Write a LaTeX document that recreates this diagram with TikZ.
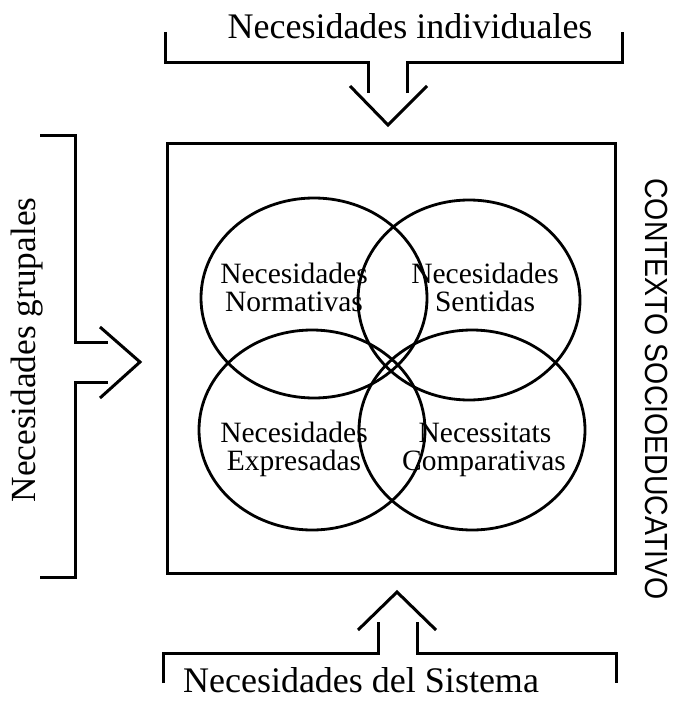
\documentclass[tikz,border=0pt]{standalone}
\usepackage{fontspec}
\usepackage{graphicx}
\setmainfont{Liberation Serif}
\newfontfamily\arialf{Liberation Sans}
\begin{document}
\begin{tikzpicture}[x=1pt,y=-1pt,
  brk/.style={line width=3pt, line join=miter, line cap=butt},
  venn/.style={line width=2.8pt},
  bigtxt/.style={font=\fontsize{36}{36}\selectfont, inner sep=0pt, anchor=base},
  sidetxt/.style={font=\fontsize{35.3}{35.3}\selectfont, inner sep=0pt, anchor=base, rotate=90},
  circtxt/.style={font=\fontsize{29.5}{29.5}\selectfont, inner sep=0pt, anchor=base},
  ctxtxt/.style={font=\arialf\fontsize{32}{32}\selectfont, inner sep=0pt, rotate=-90}
]
\useasboundingbox (0,0) rectangle (672,701);
% main box
\draw[brk] (167,143) rectangle (615,573);
% Venn ellipses
\draw[venn] (314,298) ellipse [x radius=113, y radius=100];
\draw[venn] (469,300) ellipse [x radius=111, y radius=100];
\draw[venn] (312,430) ellipse [x radius=113, y radius=100];
\draw[venn] (472,430) ellipse [x radius=113, y radius=100];
% circle labels
\node[circtxt] (nor1) at (294,283) {Necesidades};
\node[circtxt] (nor2) at (294,311) {Normativas};
\node[circtxt] (sen1) at (485,283) {Necesidades};
\node[circtxt] (sen2) at (485,311) {Sentidas};
\node[circtxt] (exp1) at (294,442) {Necesidades};
\node[circtxt] (exp2) at (294,470) {Expresadas};
\node[circtxt] (com1) at (485,442) {Necessitats};
\node[circtxt] (com2) at (484,470) {Comparativas};
% top bracket and arrow
\draw[brk] (165,32) -- (165,63) -- (368,63) -- (368,93);
\draw[brk] (407,93) -- (407,63) -- (622,63) -- (622,32);
\draw[brk] (350,86) -- (388,125) -- (427,86);
\node[bigtxt] (indiv) at (410,38) {Necesidades individuales};
% bottom bracket and arrow
\draw[brk] (163,683) -- (163,653) -- (378,653) -- (378,622);
\draw[brk] (417,622) -- (417,653) -- (616,653) -- (616,683);
\draw[brk] (358,630) -- (397,592) -- (436,630);
\node[bigtxt] (sist) at (361,692) {Necesidades del Sistema};
% left bracket and arrow
\draw[brk] (40,135) -- (75,135) -- (75,342) -- (108,342);
\draw[brk] (108,382) -- (75,382) -- (75,577) -- (40,577);
\draw[brk] (100,327) -- (140,362) -- (100,398);
\node[sidetxt] (grup) at (35,350) {Necesidades grupales};
% right label
\node[ctxtxt] (ctx) at (656.5,389) {\scalebox{0.89}[1]{CONTEXTO SOCIOEDUCATIVO}};
\end{tikzpicture}
\end{document}
